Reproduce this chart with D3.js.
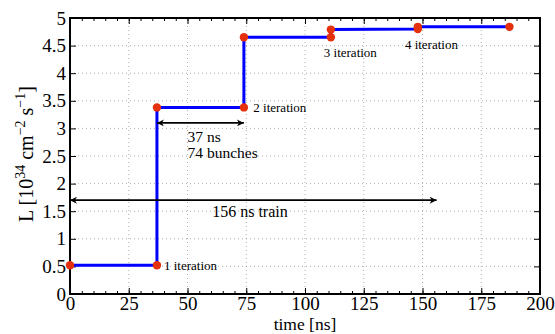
<!DOCTYPE html>
<html>
<head>
<meta charset="utf-8">
<script src="https://cdn.jsdelivr.net/npm/d3@7"></script>
<style>
  body { margin: 0; background: #fff; }
  svg text { font-family: "Liberation Serif", "Times New Roman", serif !important; }
</style>
</head>
<body>
<svg id="chart" width="555" height="334"></svg>
<script>
// luminosity steps over the train
var timeNs = [0, 37, 37, 74, 74, 111, 111, 148, 148, 187];
var lumi   = [0.52, 0.52, 3.38, 3.38, 4.65, 4.65, 4.79, 4.80, 4.84, 4.84];

var xTicks = [0, 25, 50, 75, 100, 125, 150, 175, 200];
var yTicks = [0, 0.5, 1, 1.5, 2, 2.5, 3, 3.5, 4, 4.5, 5];

// iteration labels: [time, L, text]
var iterLabels = [
  [40, 0.52, "1 iteration"],
  [78, 3.38, "2 iteration"],
  [108, 4.38, "3 iteration"],
  [142.5, 4.52, "4 iteration"]
];

// annotation arrows: [from, to, L]
var arrows = [
  [37, 74, 3.10],
  [0, 156, 1.70]
];

var svg = d3.select("#chart");
var m = {left: 70, right: 15, top: 18, bottom: 40};
var w = 555 - m.left - m.right;
var h = 334 - m.top - m.bottom;

var x = d3.scaleLinear().domain([0, 200]).range([0, w]);
var y = d3.scaleLinear().domain([0, 5]).range([h, 0]);

var g = svg.append("g").attr("transform", "translate(" + m.left + "," + m.top + ")");

// dotted grid
g.selectAll(".gx").data(xTicks).enter().append("line")
  .attr("x1", d => x(d)).attr("x2", d => x(d))
  .attr("y1", 0).attr("y2", h)
  .attr("stroke", "#999").attr("stroke-width", 0.8)
  .attr("stroke-dasharray", "1,3");
g.selectAll(".gy").data(yTicks).enter().append("line")
  .attr("x1", 0).attr("x2", w)
  .attr("y1", d => y(d)).attr("y2", d => y(d))
  .attr("stroke", "#999").attr("stroke-width", 0.8)
  .attr("stroke-dasharray", "1,3");

// axes, ticks inward, box all round
var minor = d3.range(0, 201, 5);
function tickStyle(sel) {
  sel.attr("font-family", null).attr("font-size", null);
  sel.select(".domain").remove();
  sel.selectAll("line").attr("stroke", "#000");
  sel.selectAll("text").attr("font-size", 19).attr("fill", "#000")
    .attr("font-family", "Liberation Serif");
}
g.append("g").attr("transform", "translate(0," + h + ")")
  .call(d3.axisBottom(x).tickValues(minor).tickSize(-3).tickFormat(""))
  .call(tickStyle);
g.append("g").attr("transform", "translate(0," + h + ")")
  .call(d3.axisBottom(x).tickValues(xTicks).tickSize(-6).tickPadding(2))
  .call(tickStyle);
g.append("g")
  .call(d3.axisTop(x).tickValues(minor).tickSize(-3).tickFormat(""))
  .call(tickStyle);
g.append("g")
  .call(d3.axisTop(x).tickValues(xTicks).tickSize(-6).tickFormat(""))
  .call(tickStyle);
g.append("g")
  .call(d3.axisLeft(y).tickValues(yTicks).tickSize(-6).tickPadding(4)
    .tickFormat(d3.format("~g")))
  .call(tickStyle);
g.append("g").attr("transform", "translate(" + w + ",0)")
  .call(d3.axisRight(y).tickValues(yTicks).tickSize(-6).tickFormat(""))
  .call(tickStyle);

g.append("rect").attr("width", w).attr("height", h)
  .attr("fill", "none").attr("stroke", "#000").attr("stroke-width", 2);

// step line
var pts = timeNs.map((t, i) => [t, lumi[i]]);
var line = d3.line().x(d => x(d[0])).y(d => y(d[1]));
g.append("path").datum(pts).attr("d", line)
  .attr("fill", "none").attr("stroke", "#0000ff").attr("stroke-width", 3);
g.selectAll(".dot").data(pts).enter().append("circle")
  .attr("cx", d => x(d[0])).attr("cy", d => y(d[1])).attr("r", 4.2)
  .attr("fill", "#e5300e");

// arrows
svg.append("defs").append("marker").attr("id", "head")
  .attr("viewBox", "0 0 10 10").attr("refX", 10).attr("refY", 5)
  .attr("markerWidth", 9).attr("markerHeight", 7)
  .attr("markerUnits", "userSpaceOnUse")
  .attr("orient", "auto-start-reverse")
  .append("path").attr("d", "M0,0 L10,5 L0,10 L3,5 z").attr("fill", "#000");
g.selectAll(".arr").data(arrows).enter().append("line")
  .attr("x1", d => x(d[0])).attr("x2", d => x(d[1]))
  .attr("y1", d => y(d[2])).attr("y2", d => y(d[2]))
  .attr("stroke", "#000").attr("stroke-width", 1.6)
  .attr("marker-start", "url(#head)").attr("marker-end", "url(#head)");

// labels
g.selectAll(".it").data(iterLabels).enter().append("text")
  .attr("x", d => x(d[0])).attr("y", d => y(d[1]) + 5)
  .attr("font-size", 13).text(d => d[2]);

g.append("text").attr("x", x(50)).attr("y", y(3.10) + 19.5)
  .attr("font-size", 15.5).text("37 ns");
g.append("text").attr("x", x(50)).attr("y", y(3.10) + 35)
  .attr("font-size", 15.5).text("74 bunches");
g.append("text").attr("x", x(60.5)).attr("y", y(1.70) + 17)
  .attr("font-size", 16).text("156 ns train");

// axis titles
svg.append("text").attr("x", m.left + w / 2).attr("y", 329.5)
  .attr("text-anchor", "middle").attr("font-size", 17.5).text("time [ns]");

var yl = svg.append("text")
  .attr("transform", "translate(33," + (m.top + h / 2 - 2) + ") rotate(-90)")
  .attr("text-anchor", "middle").attr("font-size", 20);
yl.append("tspan").text("L [10");
yl.append("tspan").attr("dy", -8).attr("font-size", 14).text("34");
yl.append("tspan").attr("dy", 8).text(" cm");
yl.append("tspan").attr("dy", -8).attr("font-size", 14).text("\u22122");
yl.append("tspan").attr("dy", 8).text(" s");
yl.append("tspan").attr("dy", -8).attr("font-size", 14).text("\u22121");
yl.append("tspan").attr("dy", 8).text("]");
</script>
</body>
</html>
